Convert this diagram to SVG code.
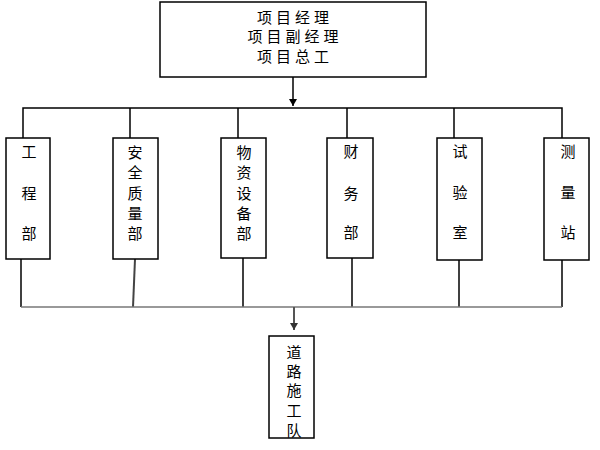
<svg xmlns="http://www.w3.org/2000/svg" width="600" height="450" viewBox="0 0 600 450">
<defs>
<marker id="arr" markerWidth="8" markerHeight="8" refX="7" refY="4" orient="auto" markerUnits="userSpaceOnUse" viewBox="0 0 8 8">
<path d="M0,0 L7,4 L0,8 Z" fill="#000"/>
</marker>
<marker id="arrg" markerWidth="8" markerHeight="8" refX="7" refY="4" orient="auto" markerUnits="userSpaceOnUse" viewBox="0 0 8 8">
<path d="M0,0 L7,4 L0,8 Z" fill="#333"/>
</marker>
</defs>
<style>
rect{fill:#fff;stroke:#000;stroke-width:1.5}
text{font-family:"Noto Sans CJK SC",sans-serif;font-size:15px;fill:#000;text-anchor:middle;dominant-baseline:central}
.top{letter-spacing:4px}
.c{stroke:#000;stroke-width:1.5;fill:none}
.g{stroke:#777;stroke-width:1.5;fill:none}
</style>
<g id="connectors">
<line class="c" x1="293" y1="77" x2="293" y2="106" marker-end="url(#arr)"/>
<polyline class="c" points="23,138 23,108 562,108 562,138"/>
<line class="c" x1="130" y1="108" x2="130" y2="138"/>
<line class="c" x1="238" y1="108" x2="238" y2="138"/>
<line class="c" x1="347" y1="108" x2="347" y2="138"/>
<line class="c" x1="454" y1="108" x2="454" y2="138"/>
<line class="c" x1="21" y1="259" x2="21" y2="307"/>
<line class="c" x1="135" y1="259" x2="133" y2="307" style="stroke:#444;stroke-width:2"/>
<line class="c" x1="243" y1="258" x2="243" y2="307"/>
<line class="c" x1="352" y1="258" x2="352" y2="307"/>
<line class="c" x1="459" y1="260" x2="459" y2="307"/>
<line class="c" x1="562" y1="260" x2="562" y2="307"/>
<line class="g" x1="21" y1="307" x2="562" y2="307"/>
<line class="c" x1="294" y1="307" x2="294" y2="330" marker-end="url(#arrg)" style="stroke:#555;stroke-width:2"/>
</g>
<g id="manager">
<rect x="160" y="2" width="266" height="75"/>
<text class="top" x="295" y="16">项目经理</text>
<text class="top" x="295" y="35">项目副经理</text>
<text class="top" x="295" y="55">项目总工</text>
</g>
<g id="gongchengbu">
<rect x="6" y="138" width="44" height="121"/>
<text x="29" y="150">工</text><text x="29" y="192">程</text><text x="29" y="232">部</text>
</g>
<g id="anquanzhiliangbu">
<rect x="113" y="138" width="45" height="121"/>
<text x="135" y="151">安</text><text x="135" y="171">全</text><text x="135" y="192">质</text><text x="135" y="212">量</text><text x="135" y="232">部</text>
</g>
<g id="wuzishebeibu">
<rect x="221" y="138" width="45" height="120"/>
<text x="244" y="151">物</text><text x="244" y="171">资</text><text x="244" y="192">设</text><text x="244" y="212">备</text><text x="244" y="232">部</text>
</g>
<g id="caiwubu">
<rect x="327" y="138" width="46" height="120"/>
<text x="351" y="150">财</text><text x="351" y="192">务</text><text x="351" y="231">部</text>
</g>
<g id="shiyanshi">
<rect x="437" y="138" width="45" height="122"/>
<text x="460" y="150">试</text><text x="460" y="191">验</text><text x="460" y="231">室</text>
</g>
<g id="celiangzhan">
<rect x="544" y="138" width="45" height="122"/>
<text x="568" y="150">测</text><text x="568" y="191">量</text><text x="568" y="231">站</text>
</g>
<g id="daolushigongdui">
<rect x="269" y="336" width="45" height="102"/>
<text x="294" y="351">道</text><text x="294" y="370">路</text><text x="294" y="389">施</text><text x="294" y="409">工</text><text x="294" y="429">队</text>
</g>
</svg>
